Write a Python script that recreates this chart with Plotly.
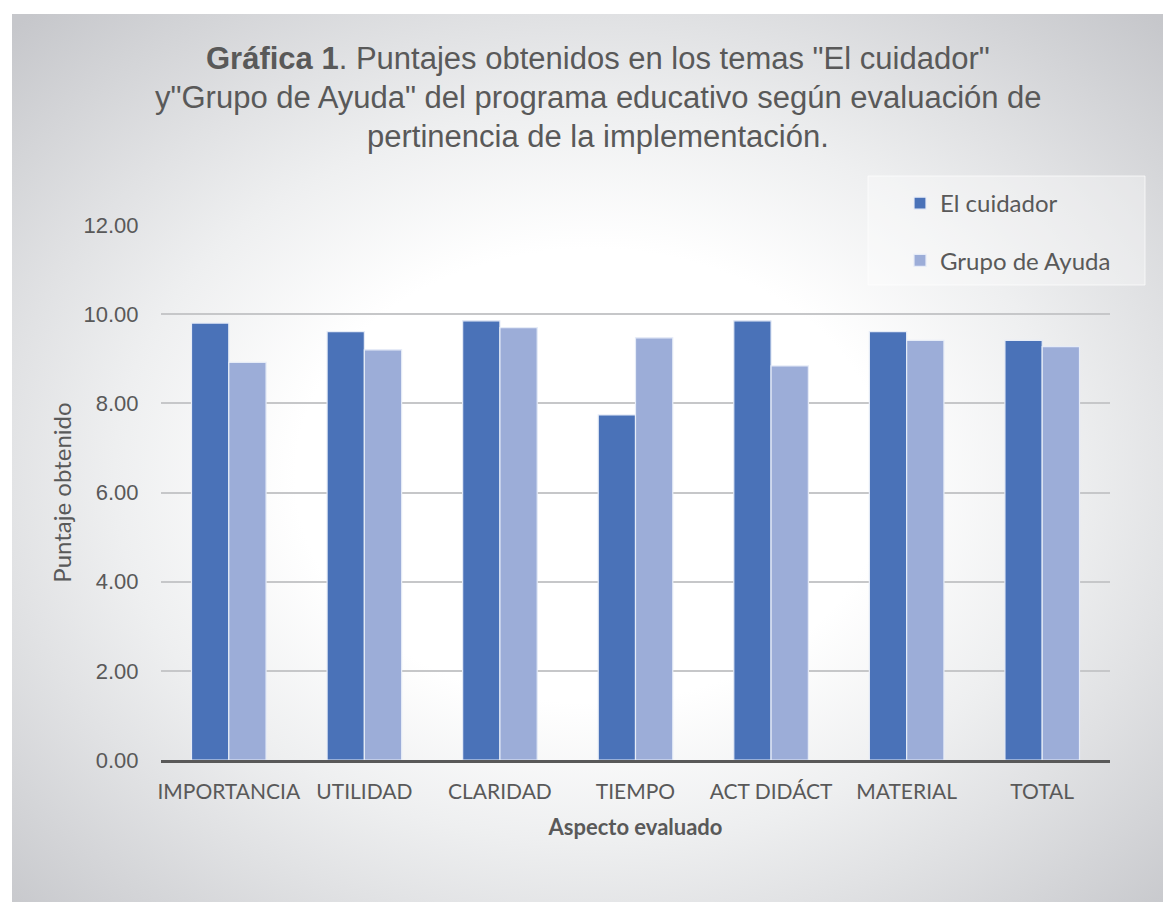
import base64

import plotly.graph_objects as go

# ── Data ──────────────────────────────────────────────────────────────────────

categorias = ["IMPORTANCIA", "UTILIDAD", "CLARIDAD", "TIEMPO", "ACT DIDÁCT", "MATERIAL", "TOTAL"]
el_cuidador = [9.80, 9.61, 9.85, 7.74, 9.85, 9.61, 9.41]
grupo_ayuda = [8.92, 9.20, 9.70, 9.47, 8.84, 9.41, 9.27]
y_ticks = [0, 2, 4, 6, 8, 10, 12]

titulo = [
    "<b>Gráfica 1</b>. Puntajes obtenidos en los temas \"El cuidador\"",
    "y\"Grupo de Ayuda\" del programa educativo según evaluación de",
    "pertinencia de la implementación.",
]

# ── Style ─────────────────────────────────────────────────────────────────────

AZUL = "#4A72B8"
AZUL_CLARO = "#9CADD8"
GRIS_TEXTO = "#595959"
TEXT_FONT = "Lato, 'Open Sans', sans-serif"
ARIAL = "'Liberation Sans', Arial, sans-serif"

# the page body has an 8px margin, so figure pixel = screen pixel - 8
W, H = 1163, 894
L, R, T, B = 153, 61, 217, 142
PW, PH = W - L - R, H - T - B


def px_x(x):  # figure px -> paper x
    return (x - L) / PW


def px_y(y):  # figure px (from top) -> paper y
    return 1 - (y - T) / PH


# radial gradient background box: white centre, grey edges
BOX_X0, BOX_Y0 = 4, 6
BW, BH = W - BOX_X0, H - BOX_Y0
svg = f"""<svg xmlns="http://www.w3.org/2000/svg" width="{BW}" height="{BH}"
 viewBox="0 0 {BW} {BH}" preserveAspectRatio="none">
<defs><radialGradient id="g" cx="50%" cy="52%" r="71%" fx="50%" fy="52%">
<stop offset="0" stop-color="#ffffff"/>
<stop offset="0.36" stop-color="#ffffff"/>
<stop offset="0.58" stop-color="#eeeff0"/>
<stop offset="0.72" stop-color="#e1e2e4"/>
<stop offset="1" stop-color="#c6c7cb"/>
</radialGradient></defs>
<rect x="0" y="0" width="{BW}" height="{BH}" fill="url(#g)"/>
</svg>"""
bg_uri = "data:image/svg+xml;base64," + base64.b64encode(svg.encode()).decode()

fig = go.Figure()
fig.add_trace(go.Bar(
    x=categorias, y=el_cuidador, name="El cuidador",
    marker=dict(color=AZUL, line=dict(color="#E6ECF7", width=1.2)),
    legendgroup="a",
))
fig.add_trace(go.Bar(
    x=categorias, y=grupo_ayuda, name="Grupo de Ayuda",
    marker=dict(color=AZUL_CLARO, line=dict(color="#E6ECF7", width=1.2)),
    legendgroup="b",
))

# title lines, placed one by one (screen y of each line centre)
title_centres = [58, 97, 136]
annotations = [
    dict(text=line, xref="paper", yref="paper",
         x=px_x(590), y=px_y(yc - 8), xanchor="center", yanchor="middle",
         showarrow=False, font=dict(family=ARIAL, size=31, color=GRIS_TEXTO))
    for line, yc in zip(titulo, title_centres)
]

fig.update_layout(
    width=W, height=H,
    paper_bgcolor="white",
    plot_bgcolor="rgba(0,0,0,0)",
    margin=dict(l=L, r=R, t=T, b=B),
    barmode="group",
    bargap=0.45,
    bargroupgap=0.0,
    images=[dict(
        source=bg_uri, xref="paper", yref="paper",
        x=px_x(BOX_X0), y=px_y(BOX_Y0),
        sizex=BW / PW, sizey=BH / PH,
        xanchor="left", yanchor="top", sizing="stretch", layer="below",
    )],
    annotations=annotations,
    shapes=[dict(
        type="rect", xref="paper", yref="paper",
        x0=px_x(860), x1=px_x(1137), y0=px_y(168), y1=px_y(277),
        fillcolor="rgba(255,255,255,0.35)",
        line=dict(color="rgba(255,255,255,0.7)", width=1),
        layer="above",
    )],
    legend=dict(
        x=px_x(892), y=px_y(173),
        xanchor="left", yanchor="top",
        bgcolor="rgba(0,0,0,0)", borderwidth=0,
        font=dict(family=TEXT_FONT, size=24, color=GRIS_TEXTO),
        tracegroupgap=23,
        itemwidth=30,
    ),
    showlegend=True,
)

fig.update_xaxes(
    showline=True, linecolor="#595959", linewidth=3,
    ticks="outside", ticklen=11, tickcolor="rgba(0,0,0,0)",
    tickfont=dict(family=TEXT_FONT, size=21, color=GRIS_TEXTO),
    title=dict(text="<b>Aspecto evaluado</b>", standoff=18,
               font=dict(family=TEXT_FONT, size=22, color=GRIS_TEXTO)),
)
fig.update_yaxes(
    range=[0, 12], tickvals=y_ticks, tickformat=".2f",
    showgrid=True, gridcolor="#C6C7C9", gridwidth=2,
    zeroline=False, showline=False,
    ticks="outside", ticklen=17, tickcolor="rgba(0,0,0,0)",
    tickfont=dict(family=ARIAL, size=22, color=GRIS_TEXTO),
    title=dict(text="Puntaje obtenido", standoff=5,
               font=dict(family=TEXT_FONT, size=24, color=GRIS_TEXTO)),
)

fig.write_html("out.html")
